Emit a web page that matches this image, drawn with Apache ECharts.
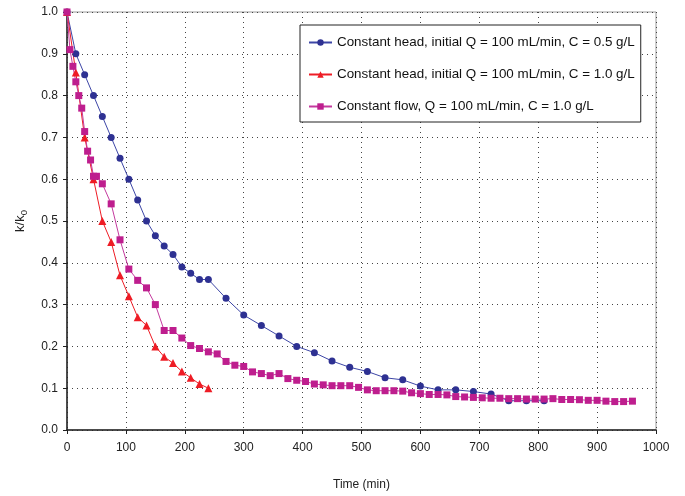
<!DOCTYPE html>
<html><head><meta charset="utf-8">
<script src="https://cdn.jsdelivr.net/npm/echarts@6/dist/echarts.min.js"></script>
<style>html,body{margin:0;padding:0;background:#fff}#c{width:685px;height:496px}</style>
</head><body><div id="c"></div>
<script>
var seriesNames = [
  'Constant head, initial Q = 100 mL/min, C = 0.5 g/L',
  'Constant head, initial Q = 100 mL/min, C = 1.0 g/L',
  'Constant flow, Q = 100 mL/min, C = 1.0 g/L'
];
var headLowTime = [0,15,30,45,60,75,90,105,120,135,150,165,180,195,210,225,240,270,300,330,360,390,420,450,480,510,540,570,600,630,660,690,720,750,780,810];
var headLowK = [1.0,0.90,0.85,0.80,0.75,0.70,0.65,0.60,0.55,0.50,0.465,0.44,0.42,0.39,0.375,0.36,0.36,0.315,0.275,0.25,0.225,0.20,0.185,0.165,0.15,0.14,0.125,0.12,0.105,0.096,0.096,0.092,0.086,0.070,0.070,0.070];
var headHighTime = [0,15,30,45,60,75,90,105,120,135,150,165,180,195,210,225,240];
var headHighK = [1.0,0.855,0.70,0.60,0.50,0.45,0.37,0.32,0.27,0.25,0.20,0.175,0.16,0.14,0.125,0.11,0.10];
var flowTime = [0,5,10,15,20,25,30,35,40,45,50,60,75,90,105,120,135,150,165,180,195,210,225,240,255,270,285,300,315,330,345,360,375,390,405,420,435,450,465,480,495,510,525,540,555,570,585,600,615,630,645,660,675,690,705,720,735,750,765,780,795,810,825,840,855,870,885,900,915,930,945,960];
var flowK = [1.0,0.91,0.87,0.833,0.80,0.77,0.714,0.667,0.646,0.607,0.607,0.589,0.541,0.455,0.385,0.358,0.34,0.30,0.238,0.238,0.22,0.202,0.195,0.187,0.182,0.164,0.155,0.152,0.139,0.135,0.13,0.135,0.123,0.119,0.116,0.110,0.108,0.106,0.106,0.106,0.102,0.096,0.094,0.094,0.094,0.093,0.089,0.087,0.085,0.085,0.084,0.080,0.079,0.078,0.077,0.076,0.076,0.075,0.075,0.074,0.074,0.074,0.075,0.073,0.073,0.0725,0.071,0.071,0.069,0.068,0.068,0.069];
var xTicks = [0,100,200,300,400,500,600,700,800,900,1000];
var yTicks = [0,0.1,0.2,0.3,0.4,0.5,0.6,0.7,0.8,0.9,1.0];

function pairs(xs, ys){ return xs.map(function(x,i){ return [x, ys[i]]; }); }

var chart = echarts.init(document.getElementById('c'), null, {renderer:'canvas'});
var font = 'Liberation Sans, Arial, sans-serif';
chart.setOption({
  animation:false,
  backgroundColor:'#fff',
  textStyle:{fontFamily:font},
  grid:{left:67,right:29,top:12,bottom:66,show:true,borderColor:'#9a9a9a',borderWidth:1},
  legend:{
    orient:'vertical', left:300, top:25,
    padding:[10,6,8,8], itemGap:17, itemWidth:23, itemHeight:8,
    borderColor:'#222', borderWidth:1, backgroundColor:'#fff',
    textStyle:{fontFamily:font,fontSize:13.4,lineHeight:15,color:'#111'},
    data:seriesNames
  },
  xAxis:{
    type:'value', min:xTicks[0], max:xTicks[xTicks.length-1], interval:100,
    name:'Time (min)', nameLocation:'middle', nameGap:49,
    nameTextStyle:{fontFamily:font,fontSize:12,color:'#222'},
    axisLine:{lineStyle:{color:'#222',width:1.5}},
    axisTick:{show:true,length:4,lineStyle:{color:'#222'}},
    axisLabel:{fontFamily:font,fontSize:12,color:'#222',margin:12,
      formatter:function(v){return String(v);}},
    splitLine:{show:true,lineStyle:{color:'#444',type:[1,4],width:1}}
  },
  yAxis:{
    type:'value', min:yTicks[0], max:yTicks[yTicks.length-1], interval:0.1,
    name:'k/k{s|0}', nameLocation:'middle', nameGap:38,
    nameTextStyle:{fontFamily:font,fontSize:13,color:'#222',
      rich:{s:{fontFamily:font,fontSize:9.5,color:'#222',verticalAlign:'bottom',padding:[7,0,0,0]}}},
    axisLine:{show:true,lineStyle:{color:'#222',width:1.5}},
    axisTick:{show:true,length:4,lineStyle:{color:'#222'}},
    axisLabel:{fontFamily:font,fontSize:12,color:'#222',margin:9,
      formatter:function(v){return v.toFixed(1);}},
    splitLine:{show:true,lineStyle:{color:'#444',type:[1,4],width:1}}
  },
  series:[
    {name:seriesNames[0], type:'line', data:pairs(headLowTime, headLowK),
     symbol:'circle', symbolSize:7, itemStyle:{color:'#2E3192'},
     lineStyle:{color:'#3D46A6',width:1}},
    {name:seriesNames[1], type:'line', data:pairs(headHighTime, headHighK),
     symbol:'triangle', symbolSize:8, itemStyle:{color:'#EE1C25'},
     lineStyle:{color:'#EE1C25',width:1}},
    {name:seriesNames[2], type:'line', data:pairs(flowTime, flowK),
     symbol:'rect', symbolSize:7, itemStyle:{color:'#BE1E8E'},
     lineStyle:{color:'#C43A9E',width:1}}
  ]
});
</script></body></html>
